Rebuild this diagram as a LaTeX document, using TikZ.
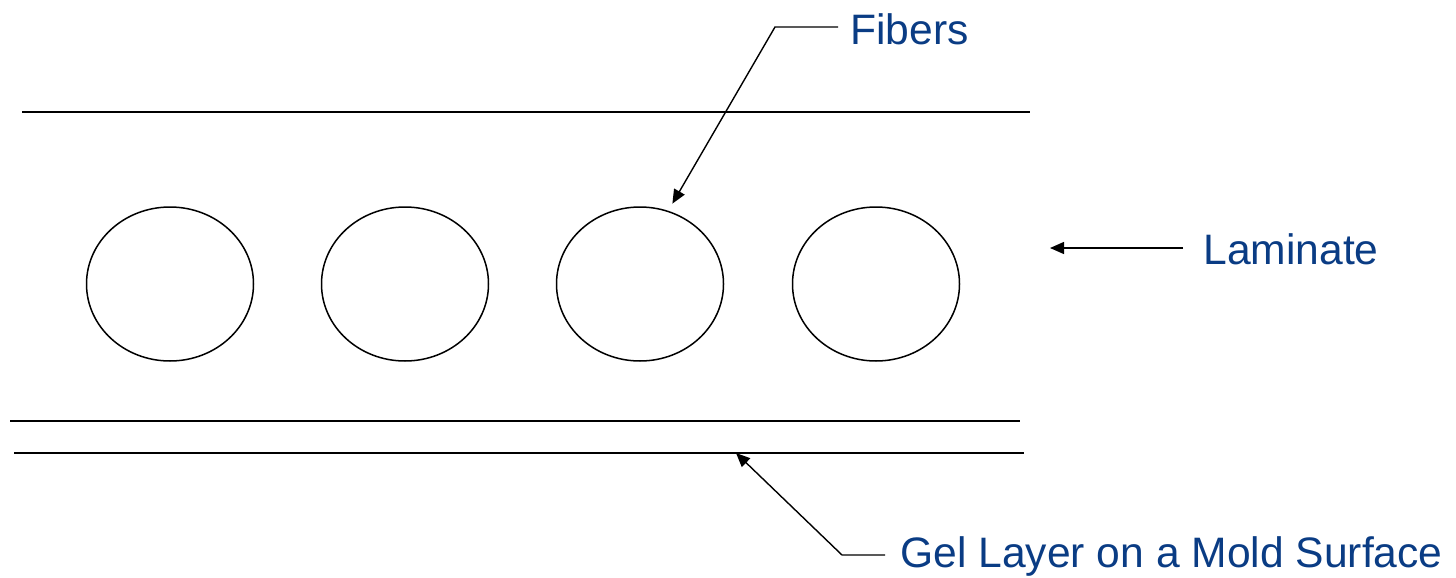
\documentclass[tikz,border=0pt]{standalone}
\usepackage{fontspec}
\setmainfont{Liberation Sans}
\usetikzlibrary{arrows.meta,shapes.geometric}
\definecolor{lbl}{RGB}{10,60,132}
\begin{document}
\begin{tikzpicture}[x=0.5pt,y=-0.5pt,
  layer/.style={line width=1pt},
  fiber/.style={ellipse,draw,line width=0.75pt,minimum width=83.5pt,minimum height=77pt,inner sep=0pt,outer sep=0pt},
  pointer/.style={line width=0.7pt,-{Triangle[length=7pt,width=6pt]}},
  lbltext/.style={font=\fontsize{21.3}{25}\selectfont,text=lbl,inner sep=0pt,anchor=base west}]
\useasboundingbox (0,0) rectangle (1456,578);
% laminate boundaries
\draw[layer] (22,112) -- (1030,112);
\draw[layer] (10,421) -- (1020,421);
\draw[layer] (14,453) -- (1024,453);
% fibers
\foreach \cx/\n in {170/f1,405/f2,640/f3,876/f4}
  \node[fiber] (\n) at (\cx,284) {};
% labels
\node[lbltext] (fib) at (850,44) {Fibers};
\node[lbltext] (lam) at (1203,264) {Laminate};
\node[lbltext] (gel) at (900,567) {Gel Layer on a Mold Surface};
% connectors
\coordinate (fibB) at (775,27);
\coordinate (lamT) at (1050,248);
\coordinate (gelB) at (842,555);
\coordinate (gelT) at (736,453);
\draw[pointer,shorten >=4.5pt] ([xshift=-6pt]fib.west |- fibB) -- (fibB) -- (f3.69);
\draw[pointer] ([xshift=-10pt]lam.west |- lamT) -- (lamT);
\draw[pointer] ([xshift=-7.5pt]gel.west |- gelB) -- (gelB) -- (gelT);
\end{tikzpicture}
\end{document}
